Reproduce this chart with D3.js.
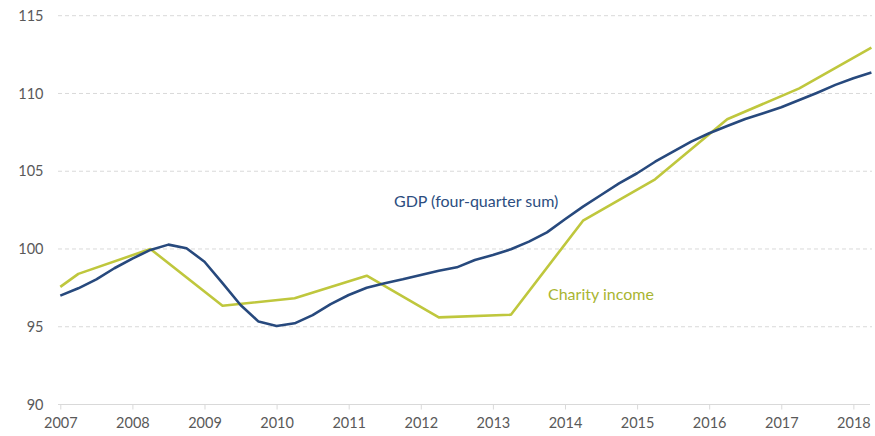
<!DOCTYPE html>
<html><head><meta charset="utf-8">
<script src="https://cdn.jsdelivr.net/npm/d3@7"></script>
<style>html,body{margin:0;padding:0;background:#fff;} svg{display:block;font-family:Lato,"Open Sans",sans-serif;}</style>
</head><body>
<svg id="c" width="875" height="436"></svg>
<script>
const gdpTimes = [2007,2007.25,2007.5,2007.75,2008,2008.25,2008.5,2008.75,2009,2009.25,2009.5,2009.75,2010,2010.25,2010.5,2010.75,2011,2011.25,2011.5,2011.75,2012,2012.25,2012.5,2012.75,2013,2013.25,2013.5,2013.75,2014,2014.25,2014.5,2014.75,2015,2015.25,2015.5,2015.75,2016,2016.25,2016.5,2016.75,2017,2017.25,2017.5,2017.75,2018,2018.25];
const gdpValues = [97.0,97.47,98.05,98.76,99.38,99.94,100.28,100.05,99.18,97.8,96.4,95.33,95.05,95.22,95.75,96.45,97.04,97.51,97.8,98.05,98.33,98.6,98.82,99.29,99.61,99.98,100.47,101.07,101.91,102.72,103.47,104.22,104.87,105.61,106.26,106.9,107.44,107.91,108.36,108.73,109.11,109.58,110.05,110.55,110.98,111.35];
const charityTimes = [2007,2007.25,2008.25,2009.25,2010.25,2011.25,2012.25,2013.25,2014.25,2015.25,2016.25,2017.25,2018.25];
const charityValues = [97.56,98.4,100.0,96.35,96.83,98.28,95.6,95.77,101.82,104.48,108.34,110.33,112.95];
const yTicks = [90,95,100,105,110,115];
const xTicks = [2007,2008,2009,2010,2011,2012,2013,2014,2015,2016,2017,2018];
const labels = {gdp:"GDP (four-quarter sum)", charity:"Charity income"};

const svg = d3.select("#c");
const x = d3.scaleLinear().domain([2007, 2018.25]).range([60.3, 871.4]);
const y = d3.scaleLinear().domain([90, 115]).range([404.5, 15.7]);
const textCol = "#595959";

// gridlines
svg.append("g").selectAll("line").data(yTicks.filter(d=>d>90)).join("line")
  .attr("x1", 58).attr("x2", 872)
  .attr("y1", d=>y(d)).attr("y2", d=>y(d))
  .attr("stroke", "#d9d9d9").attr("stroke-width", 1).attr("stroke-dasharray", "4,3");

// y labels
svg.append("g").selectAll("text").data(yTicks).join("text")
  .attr("x", 43.5).attr("y", d=>y(d)).attr("dy", "0.35em")
  .attr("text-anchor", "end").attr("fill", textCol).attr("font-size", "14.5px")
  .text(d=>d);

// x axis
const xAxis = d3.axisBottom(x).tickValues(xTicks).tickFormat(d3.format("d")).tickSize(5).tickPadding(8);
const gx = svg.append("g").attr("transform", `translate(0,${y(90)})`).call(xAxis);
gx.select(".domain").attr("stroke", "#d9d9d9").attr("d", `M58,0H870`);
gx.selectAll(".tick line").attr("stroke", "#d9d9d9");
gx.selectAll(".tick text").attr("fill", textCol).attr("font-size", "14.5px").attr("font-family", "Lato,'Open Sans',sans-serif");

const line = d3.line().x(d=>x(d[0])).y(d=>y(d[1]));
svg.append("path").datum(d3.zip(charityTimes, charityValues))
  .attr("d", line).attr("fill", "none").attr("stroke", "#bfc73d").attr("stroke-width", 2.6).attr("stroke-linejoin", "round");
svg.append("path").datum(d3.zip(gdpTimes, gdpValues))
  .attr("d", line).attr("fill", "none").attr("stroke", "#27497d").attr("stroke-width", 2.6).attr("stroke-linejoin", "round");

svg.append("text").attr("x", 394).attr("y", 201).attr("dy", "0.35em")
  .attr("fill", "#2c4d80").attr("font-size", "16px").text(labels.gdp);
svg.append("text").attr("x", 548).attr("y", 294).attr("dy", "0.35em")
  .attr("fill", "#a9b531").attr("font-size", "16px").text(labels.charity);
</script>
</body></html>
